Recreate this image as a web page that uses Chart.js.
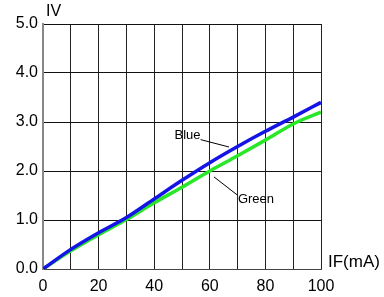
<!DOCTYPE html>
<html>
<head>
<meta charset="utf-8">
<script src="https://cdn.jsdelivr.net/npm/chart.js@4/dist/chart.umd.min.js"></script>
<style>
  html, body { margin: 0; padding: 0; background: #fff; }
  #wrap { width: 384px; height: 297px; }
</style>
</head>
<body>
<div id="wrap"><canvas id="ivChart" width="384" height="297"></canvas></div>
<script>
const currentMA = [0, 10, 20, 30, 40, 50, 60, 70, 80, 90, 100];
const blueIV = [0, 0.40, 0.74, 1.05, 1.43, 1.81, 2.17, 2.50, 2.81, 3.10, 3.40];
const greenIV = [0, 0.37, 0.70, 1.01, 1.35, 1.67, 2.0, 2.31, 2.63, 2.96, 3.20];

const toPoints = (xs, ys) => xs.map((x, i) => ({ x: x, y: ys[i] }));

// labels with leader lines, given in data units
const callouts = [
    { text: 'Blue', at: [47.3, 2.72], from: [56.7, 2.64], to: [66.9, 2.49] },
    { text: 'Green', at: [70.1, 1.41], from: [61.5, 1.88], to: [69.9, 1.51] }
];

const extras = {
    id: 'extras',
    afterDraw(chart) {
        const { ctx, chartArea, scales } = chart;
        const xs = scales.x, ys = scales.y;
        ctx.save();
        ctx.fillStyle = '#000';
        ctx.font = '16px "Liberation Sans", Arial, sans-serif';
        ctx.textBaseline = 'middle';
        ctx.textAlign = 'left';
        ctx.fillText('IV', chartArea.left + 3, chartArea.top - 12);
        ctx.font = '17px "Liberation Sans", Arial, sans-serif';
        ctx.fillText('IF(mA)', chartArea.right + 7, chartArea.bottom - 7);

        ctx.font = '13px "Liberation Sans", Arial, sans-serif';
        ctx.strokeStyle = '#000';
        ctx.lineWidth = 1;
        callouts.forEach(c => {
            ctx.fillText(c.text, xs.getPixelForValue(c.at[0]), ys.getPixelForValue(c.at[1]));
            ctx.beginPath();
            ctx.moveTo(xs.getPixelForValue(c.from[0]), ys.getPixelForValue(c.from[1]));
            ctx.lineTo(xs.getPixelForValue(c.to[0]), ys.getPixelForValue(c.to[1]));
            ctx.stroke();
        });
        ctx.restore();
    }
};

new Chart(document.getElementById('ivChart'), {
    type: 'line',
    data: {
        datasets: [
            {
                label: 'Blue',
                data: toPoints(currentMA, blueIV),
                borderColor: '#1414e6',
                borderWidth: 3.5,
                pointRadius: 0,
                cubicInterpolationMode: 'monotone'
            },
            {
                label: 'Green',
                data: toPoints(currentMA, greenIV),
                borderColor: '#28e628',
                borderWidth: 3.5,
                pointRadius: 0,
                cubicInterpolationMode: 'monotone'
            }
        ]
    },
    options: {
        responsive: false,
        animation: false,
        layout: { padding: { top: 24, right: 63, left: 0, bottom: 0 } },
        plugins: {
            legend: { display: false },
            tooltip: { enabled: false }
        },
        scales: {
            x: {
                type: 'linear',
                min: 0,
                max: 100,
                afterFit: s => { s.height = 28; },
                ticks: {
                    stepSize: 10,
                    autoSkip: false,
                    maxRotation: 0,
                    padding: 8,
                    color: '#000',
                    font: { family: '"Liberation Sans", Arial, sans-serif', size: 16 },
                    callback: v => (v % 20 === 0 ? v : '')
                },
                grid: { color: '#222', lineWidth: 1, drawTicks: false },
                border: { color: '#444', width: 1 }
            },
            y: {
                min: 0,
                max: 5,
                afterFit: s => { s.width = 43; },
                ticks: {
                    stepSize: 1,
                    padding: 5,
                    color: '#000',
                    font: { family: '"Liberation Sans", Arial, sans-serif', size: 16 },
                    callback: v => v.toFixed(1)
                },
                grid: { color: '#111', lineWidth: 1, drawTicks: false },
                border: { color: '#888', width: 2 }
            }
        }
    },
    plugins: [extras]
});
</script>
</body>
</html>
